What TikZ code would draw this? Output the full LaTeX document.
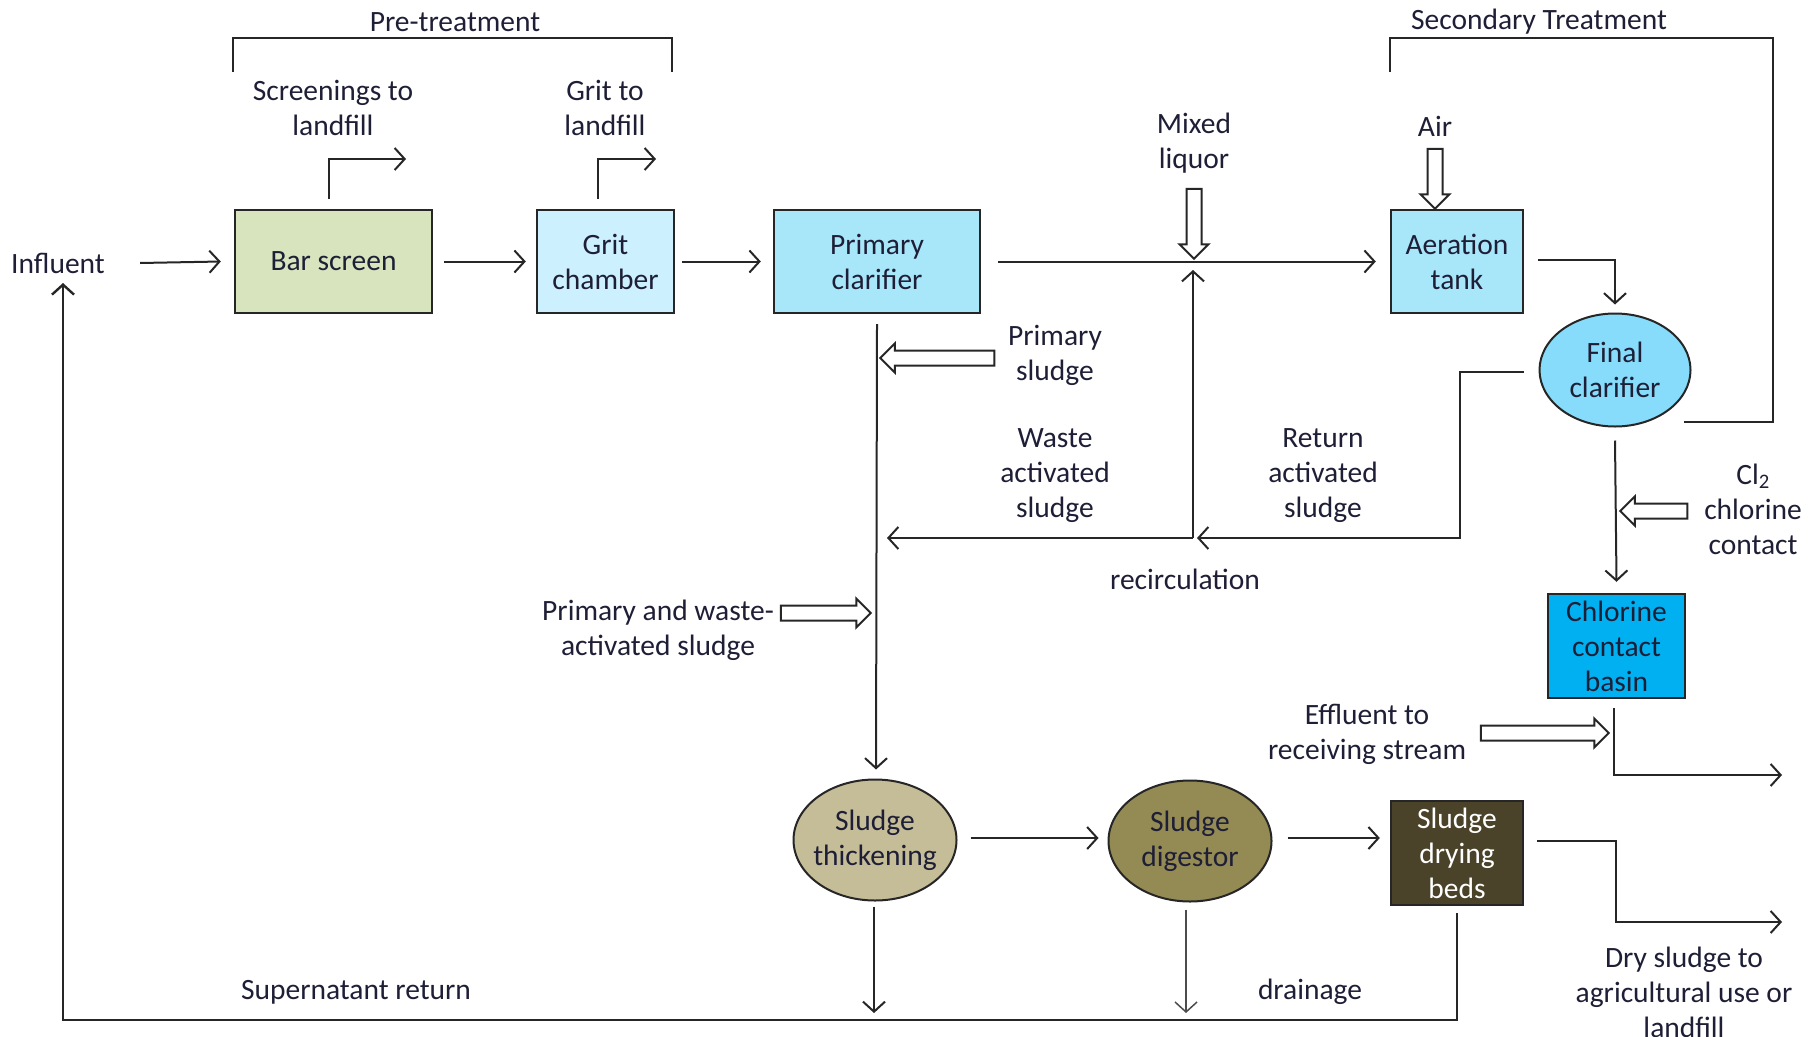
\documentclass[tikz,border=0pt]{standalone}
\usepackage{fontspec}
\setmainfont{Carlito}
\usetikzlibrary{arrows.meta,shapes.geometric,shapes.arrows}
\definecolor{txt}{HTML}{1E1E36}
\definecolor{linec}{HTML}{262626}
\definecolor{cbar}{HTML}{D7E4BD}
\definecolor{cgrit}{HTML}{CCF0FD}
\definecolor{cprim}{HTML}{A8E6FA}
\definecolor{cfinal}{HTML}{86DCFA}
\definecolor{cchl}{HTML}{00B0F0}
\definecolor{cthick}{HTML}{C4BD97}
\definecolor{cdig}{HTML}{948A54}
\definecolor{cdry}{HTML}{4A4229}
\begin{document}
\begin{tikzpicture}[x=1pt,y=-1pt,
  every node/.style={font=\fontsize{29.5}{35}\selectfont, text=txt},
  lbl/.style={align=center, inner sep=0pt},
  procbox/.style={draw=linec, line width=2.4pt, rectangle, minimum height=103pt, align=center, inner sep=0pt},
  procell/.style={draw=linec, line width=2pt, ellipse, align=center, inner xsep=-12pt, inner ysep=0pt},
  arr/.style={draw=linec, line width=2pt, -{Straight Barb[length=10pt,width=22pt]}},
  ln/.style={draw=linec, line width=2pt},
  barrow/.style={draw=linec, line width=2pt, fill=white, single arrow, single arrow head extend=7pt, minimum width=28pt, inner sep=0pt, text height=6.5pt, text depth=6.5pt, text width=0pt}
]
\useasboundingbox (0,0) rectangle (1819,1036);

% process nodes
\node[procbox, fill=cbar, minimum width=197pt] (bar) at (333.5,261.5) {Bar screen};
\node[procbox, fill=cgrit, minimum width=137pt] (grit) at (605.5,261.5) {Grit\\chamber};
\node[procbox, fill=cprim, minimum width=206pt] (prim) at (877,261.5) {Primary\\clarifier};
\node[procbox, fill=cprim, minimum width=132pt] (aer) at (1457,261.5) {Aeration\\tank};
\node[procell, fill=cfinal, minimum width=151pt, minimum height=113pt] (final) at (1615,370) {Final\\clarifier};
\node[procbox, fill=cchl, minimum width=137pt, minimum height=104pt] (chl) at (1616.5,646) {Chlorine\\contact\\basin};
\node[procell, fill=cthick, minimum width=163pt, minimum height=121pt] (thick) at (875,840) {Sludge\\thickening};
\node[procell, fill=cdig, minimum width=163pt, minimum height=121pt] (dig) at (1190,841) {Sludge\\digestor};
\node[procbox, fill=cdry, minimum width=132pt, minimum height=104pt, text=white] (dry) at (1457,853) {Sludge\\drying\\beds};

% labels
\node[lbl] (pretxt) at (455,22) {Pre-treatment};
\node[lbl] (sectxt) at (1539,22) {Secondary Treatment};
\node[lbl] (scrtxt) at (333,108) {Screenings to\\landfill};
\node[lbl] (grittxt) at (605,108) {Grit to\\landfill};
\node[lbl] (mltxt) at (1194,143) {Mixed\\liquor};
\node[lbl] (airtxt) at (1435,126) {Air};
\node[lbl] (inf) at (58,263) {Influent};
\node[lbl] (pstxt) at (1055,355) {Primary\\sludge};
\node[lbl] (wastxt) at (1055,476) {Waste\\activated\\sludge};
\node[lbl] (rastxt) at (1323,476) {Return\\activated\\sludge};
\node[lbl] (rectxt) at (1185,579) {recirculation};
\node[lbl] (cltxt) at (1753,509) {Cl\textsubscript{2}\\chlorine\\contact};
\node[lbl] (pwtxt) at (658,630) {Primary and waste-\\activated sludge};
\node[lbl] (efftxt) at (1367,734) {Effluent to\\receiving stream};
\node[lbl] (suptxt) at (356,992) {Supernatant return};
\node[lbl] (draintxt) at (1310,992) {drainage};
\node[lbl] (drytxt) at (1684,992) {Dry sludge to\\agricultural use or\\landfill};

% block arrows
\node[barrow, minimum height=70pt, rotate=-90] (mlarr) at (1194,220) {};
\node[barrow, minimum height=60pt, rotate=-90] (airarr) at (1435,175) {};
\node[barrow, minimum height=114pt, rotate=180] (psarr) at (941,358) {};
\node[barrow, minimum height=90pt] (pwarr) at (822,613) {};
\node[barrow, minimum height=67pt, rotate=180] (clarr) at (1657.5,511) {};
\node[barrow, minimum height=128pt] (effarr) at (1541,733) {};

% free-end coordinates
\coordinate (scrend) at (406,159);
\coordinate (gritend) at (656,159);
\coordinate (mix) at (1193,538);
\coordinate (effend) at (1782,775);
\coordinate (dryend) at (1782,922);
\coordinate (inftip) at (63,283);

% brackets
\draw[ln] (233,72) -- (233,38) -- (672,38) -- (672,72);
\draw[ln] (aer.west |- 0,72) -- (aer.west |- 0,38) -- (1773,38) -- (1773,422) -- (1684,422);

% main line
\draw[arr] ([xshift=35pt]inf.east) -- ([xshift=-13pt]bar.west);
\draw[arr] ([xshift=11pt]bar.east) -- ([xshift=-10pt]grit.west);
\draw[arr] ([xshift=7pt]grit.east) -- ([xshift=-12pt]prim.west);
\draw[arr] ([xshift=17pt]prim.east) -- ([xshift=-14pt]aer.west);
\draw[arr] ([xshift=14pt,yshift=1.5pt]aer.east) -| ([yshift=8pt]final.north);

% pre-treatment removals
\draw[arr] ([xshift=-4.5pt,yshift=10pt]bar.north) |- (scrend);
\draw[arr] ([xshift=-7.5pt,yshift=10pt]grit.north) |- (gritend);

% recirculation
\draw[arr] ([xshift=-15pt,yshift=-2pt]final.west) -- (1460,372) |- ([xshift=4pt]mix);
\draw[arr] (mix) -- (1193,270);
\draw[arr] (mix) -- (887,538);

% sludge line
\draw[arr] ([yshift=-10pt]prim.south) -- ([xshift=1pt,yshift=9pt]thick.north);

% final to chlorine
\draw[arr] ([yshift=-13pt]final.south) -- ([yshift=11pt]chl.north);
\draw[arr] ([xshift=-2.5pt,yshift=-9pt]chl.south) |- (effend);

% sludge train
\draw[arr] ([xshift=13pt,yshift=2pt]thick.east) -- ([xshift=-9pt,yshift=3pt]dig.west);
\draw[arr] ([xshift=15pt,yshift=3pt]dig.east) -- ([xshift=-10pt,yshift=15pt]dry.west);
\draw[arr] ([xshift=13pt,yshift=12pt]dry.east) -- (1616,841) |- (dryend);
\draw[arr] ([xshift=-1pt,yshift=-5pt]thick.south) -- (874,1013);
\draw[arr, line width=1.5pt, draw=black!70] ([xshift=-4pt,yshift=-7pt]dig.south) -- (1186,1013);

% supernatant return
\draw[arr, line width=2.4pt] ([yshift=-7pt]dry.south) -- (1457,1020) -- (63,1020) -- (inftip);
\end{tikzpicture}
\end{document}
